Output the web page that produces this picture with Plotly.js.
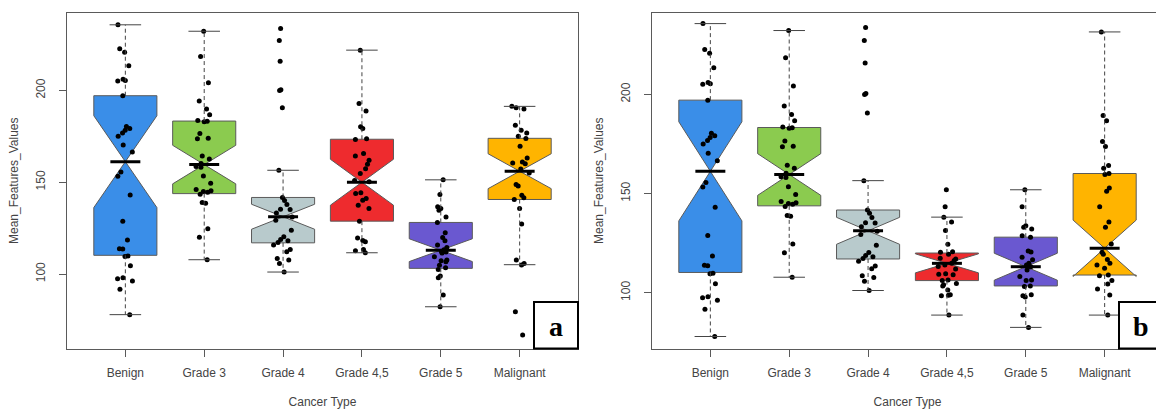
<!DOCTYPE html>
<html>
<head>
<meta charset="utf-8">
<script src="https://cdn.plot.ly/plotly-3.0.1.min.js"></script>
<style>
html,body{margin:0;padding:0;background:#fff;overflow:hidden;width:1156px;height:409px;}
#chart{width:1170px;height:409px;}
</style>
</head>
<body>
<div id="chart"></div>
<script>
// ---------- data ----------
var categories = ['Benign', 'Grade 3', 'Grade 4', 'Grade 4,5', 'Grade 5', 'Malignant'];
var positions = [1, 2, 3, 4, 5, 6];
var yTicks = [100, 150, 200];
var colors = ['#3A8EE8', '#8BCB4F', '#B8CACC', '#EE2B2E', '#6A58D0', '#FFB400'];

// panel a box statistics
var q1A    = [110.2, 143.8, 117.0, 128.8, 103.1, 140.6];
var medA   = [161.2, 159.6, 131.2, 150.0, 113.0, 156.0];
var q3A    = [197.1, 183.3, 141.7, 173.4, 128.1, 173.9];
var loA    = [77.9, 107.8, 101.1, 111.6, 82.2, 105.1];
var hiA    = [235.7, 232.2, 156.5, 221.9, 151.3, 191.3];
var notchA = [25.0, 10.5, 6.8, 12.5, 6.2, 9.5];

// panel b box statistics
var q1B    = [110.2, 143.8, 117.0, 106.1, 103.4, 108.9];
var medB   = [161.2, 159.6, 131.2, 114.8, 113.1, 122.4];
var q3B    = [197.1, 183.3, 141.7, 120.0, 128.0, 160.1];
var loB    = [77.9, 107.8, 101.1, 88.7, 82.5, 88.7];
var hiB    = [235.7, 232.2, 156.5, 138.1, 151.9, 231.5];
var notchB = [25.0, 10.5, 6.8, 4.8, 6.8, 14.2];

// observed points
var benign = [235.7,222.6,220.8,213.4,206,205.4,205.1,197.1,180.4,179.2,178.3,176.8,175,170.3,166.5,155.6,153.3,143.1,128.8,118.5,113.8,113.6,109.8,109.5,104.5,98,97.5,96.2,91.7,77.9];
var grade3 = [232.2,218.5,204.2,194.2,189.9,186.7,183.6,183.2,182.9,176.5,173.9,173.6,164.3,162.7,160.2,158.5,158.1,153.4,149.5,146,145.4,145,144.6,143.5,138.9,138.6,124.6,120.1,107.8];
var grade4 = [233.7,227.2,215.8,200.4,200,190.6,156.5,141.7,140,137.9,135.3,135.1,133.2,131,129.3,123.9,120.3,118.8,118.1,117.2,115.8,113.4,112.1,108.5,107.6,105.8,101.1];
var grade45A = [221.9,192.8,188.8,180.2,179.2,173.6,173.2,165.6,164.3,162,159.8,157.4,154.7,150.9,150.2,144.2,143.8,141.1,140.2,137.5,135.7,128.8,119.6,118.3,117.6,113.4,112.7,111.6];
var grade5A = [151.3,143.3,136.6,135.7,134.8,131.1,128.1,122.5,119.9,118.2,115.8,114.5,113.3,112.3,112,111.4,109.4,107.6,107.3,106.7,104.8,103.4,102.5,98.9,98,88.6,82.2];
var malignantA = [191.3,190.6,189.9,181,178.3,176.8,175,173.8,169.6,163.2,161,160.5,160,157.2,155,148.7,148,142.9,141.5,140.6,135.7,127.2,107.6,105.8,104.9,79.5,66.8];
var grade45B = [151.9,143.4,138.1,135.7,131.3,124.4,120.7,120.4,119.4,117.4,117,116.2,114.8,114,113.2,112,109.6,109.3,109.1,106.4,106.1,104.6,104,103.4,101.4,98.9,98.7,98.5,88.7];
var grade5B = [151.9,143.4,133.8,133,132.1,128.7,127.9,121,120.5,117.9,116.6,114.9,114,113.1,111.5,108.1,106.4,106.1,103.4,103.1,99,98.5,97.8,88.8,82.5];
var malignantB = [231.5,189.4,186.7,176.3,173.7,164.1,162.8,160.1,159.6,152.8,151.1,143.4,135.7,133,124.6,120.4,119.4,116.7,114.9,114,112.3,108.9,108.6,106.1,104.4,101.9,98.8,88.7];

var pointsA = [benign, grade3, grade4, grade45A, grade5A, malignantA];
var pointsB = [benign, grade3, grade4, grade45B, grade5B, malignantB];

// ---------- build ----------
var W = 1170, H = 409;
var BOXW = 0.8, CAP = 0.2, MEDHALF = 0.19;
var lineCol = '#5a5a5a';
var traces = [];

function panel(xa, ya, q1, med, q3, lo, hi, notch, pts) {
  var i;
  for (i = 0; i < categories.length; i++) {
    traces.push({
      type: 'box', xaxis: xa, yaxis: ya, x: [positions[i]],
      q1: [q1[i]], median: [med[i]], q3: [q3[i]],
      lowerfence: [q1[i]], upperfence: [q3[i]],
      notched: true, notchspan: [notch[i]], notchwidth: 0.5,
      width: BOXW, whiskerwidth: 0, boxpoints: false,
      fillcolor: colors[i], line: {color: lineCol, width: 1},
      hoverinfo: 'skip', showlegend: false
    });
  }
  var wx = [], wy = [], cx = [], cy = [], mx = [], my = [];
  for (i = 0; i < categories.length; i++) {
    var p = positions[i];
    wx.push(p, p, null, p, p, null);
    wy.push(q3[i], hi[i], null, q1[i], lo[i], null);
    cx.push(p - CAP, p + CAP, null, p - CAP, p + CAP, null);
    cy.push(hi[i], hi[i], null, lo[i], lo[i], null);
    mx.push(p - MEDHALF, p + MEDHALF, null);
    my.push(med[i], med[i], null);
  }
  traces.push({type: 'scatter', mode: 'lines', xaxis: xa, yaxis: ya, x: wx, y: wy,
    line: {color: '#444', width: 1, dash: '4px,3px'}, hoverinfo: 'skip', showlegend: false, connectgaps: false});
  traces.push({type: 'scatter', mode: 'lines', xaxis: xa, yaxis: ya, x: cx, y: cy,
    line: {color: '#444', width: 1}, hoverinfo: 'skip', showlegend: false, connectgaps: false});
  traces.push({type: 'scatter', mode: 'lines', xaxis: xa, yaxis: ya, x: mx, y: my,
    line: {color: '#000', width: 3}, hoverinfo: 'skip', showlegend: false, connectgaps: false});
  var px = [], py = [];
  for (i = 0; i < categories.length; i++) {
    for (var k = 0; k < pts[i].length; k++) { px.push(positions[i]); py.push(pts[i][k]); }
  }
  traces.push({
    type: 'box', xaxis: xa, yaxis: ya, x: px, y: py,
    boxpoints: 'all', jitter: 0.32, pointpos: 0, width: BOXW,
    fillcolor: 'rgba(0,0,0,0)', line: {color: 'rgba(0,0,0,0)', width: 0},
    marker: {color: '#000', size: 5}, hoverinfo: 'skip', showlegend: false
  });
}

panel('x', 'y', q1A, medA, q3A, loA, hiA, notchA, pointsA);
panel('x2', 'y2', q1B, medB, q3B, loB, hiB, notchB, pointsB);

var font = {family: 'Liberation Sans, Arial, sans-serif', size: 12, color: '#444'};
var ydom = [(H - 349) / H, (H - 12.5) / H];

function xaxis(d0, d1, anchor) {
  return {
    domain: [d0 / W, d1 / W], anchor: anchor, range: [0.26, 6.74],
    tickmode: 'array', tickvals: positions, ticktext: categories,
    ticks: 'outside', ticklen: 7, tickcolor: lineCol, tickwidth: 1,
    showline: true, mirror: true, linecolor: lineCol, linewidth: 1,
    showgrid: false, zeroline: false, tickfont: font, ticklabelstandoff: 6,
    title: {text: 'Cancer Type', font: font, standoff: 22}
  };
}
function yaxis(range, anchor) {
  return {
    domain: ydom, anchor: anchor, range: range,
    tickmode: 'array', tickvals: yTicks, tickangle: -90,
    ticks: 'outside', ticklen: 7, tickcolor: lineCol, tickwidth: 1,
    showline: true, mirror: true, linecolor: lineCol, linewidth: 1,
    showgrid: false, zeroline: false, tickfont: font, ticklabelstandoff: 9,
    title: {text: 'Mean_Features_Values', font: font, standoff: 13}
  };
}

function px2x(v) { return v / W; }
function px2y(v) { return (H - v) / H; }

var layout = {
  width: W, height: H,
  margin: {l: 0, r: 0, t: 0, b: 0},
  paper_bgcolor: '#fff', plot_bgcolor: '#fff',
  boxmode: 'overlay', showlegend: false,
  xaxis: xaxis(67, 578, 'y'),
  yaxis: yaxis([59.2, 242.4], 'x'),
  xaxis2: xaxis(652, 1163, 'y2'),
  yaxis2: yaxis([71.6, 241.3], 'x2'),
  shapes: [
    {type: 'rect', xref: 'paper', yref: 'paper', x0: px2x(534), x1: px2x(578), y0: px2y(348.5), y1: px2y(302),
     line: {color: '#000', width: 2}, fillcolor: '#fff', layer: 'above'},
    {type: 'rect', xref: 'paper', yref: 'paper', x0: px2x(1119), x1: px2x(1163), y0: px2y(348.5), y1: px2y(302),
     line: {color: '#000', width: 2}, fillcolor: '#fff', layer: 'above'}
  ],
  annotations: [
    {xref: 'paper', yref: 'paper', x: px2x(556), y: px2y(326), text: '<b>a</b>', showarrow: false,
     xanchor: 'center', yanchor: 'middle', font: {family: 'Liberation Serif, Times New Roman, serif', size: 28, color: '#000'}},
    {xref: 'paper', yref: 'paper', x: px2x(1141), y: px2y(326), text: '<b>b</b>', showarrow: false,
     xanchor: 'center', yanchor: 'middle', font: {family: 'Liberation Serif, Times New Roman, serif', size: 28, color: '#000'}}
  ]
};

Plotly.newPlot('chart', traces, layout, {displayModeBar: false, staticPlot: true});
</script>
</body>
</html>
